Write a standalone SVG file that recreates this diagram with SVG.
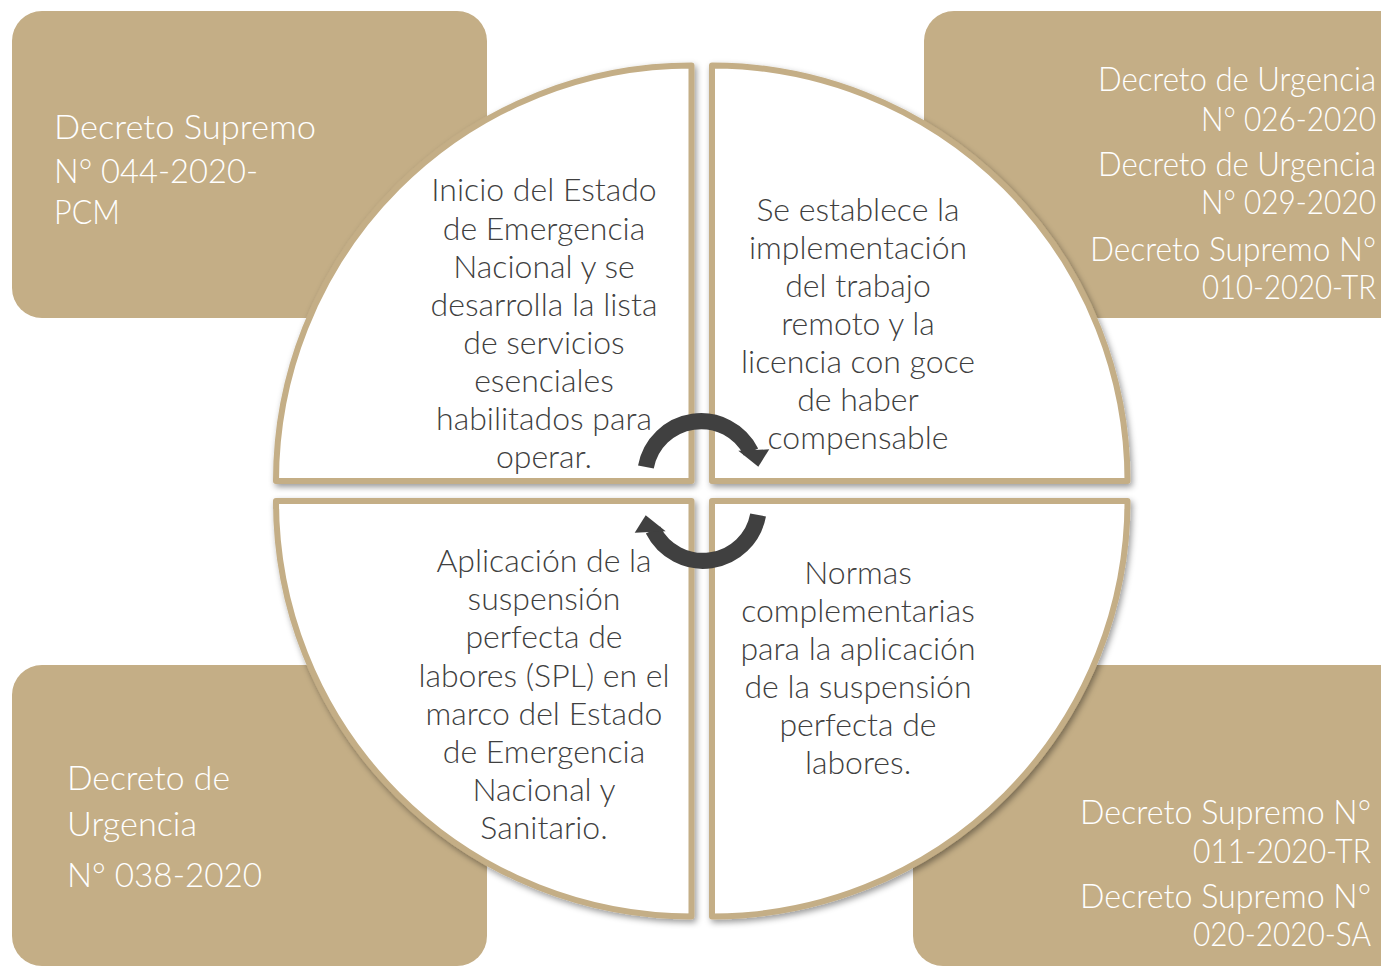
<svg xmlns="http://www.w3.org/2000/svg" width="1381" height="967" viewBox="0 0 1381 967">
<defs>
<filter id="sh" x="-10%" y="-10%" width="120%" height="120%">
<feDropShadow dx="2" dy="3" stdDeviation="3" flood-color="#000" flood-opacity="0.4"/>
</filter>
<style>
.box{fill:#C4AE86;}
.quad{fill:#fff;stroke:#C4AE86;stroke-width:6;stroke-linejoin:round;filter:url(#sh);}
.qt{font-family:Lato,"Open Sans",sans-serif;font-weight:300;font-size:32px;fill:#404040;text-anchor:middle;}
.bt{font-family:Lato,"Open Sans",sans-serif;font-weight:300;font-size:33px;fill:#fff;}
.end{text-anchor:end;}
.arr{fill:none;stroke:#404040;stroke-width:16;}
.ah{fill:#404040;}
</style>
</defs>
<rect width="1381" height="967" fill="#fff"/>

<g id="box-tl">
<rect class="box" x="12" y="11" width="475" height="307" rx="30"/>
<text class="bt" x="54" y="139" textLength="262" lengthAdjust="spacingAndGlyphs">Decreto Supremo</text>
<text class="bt" x="54" y="183" textLength="204" lengthAdjust="spacingAndGlyphs">N° 044-2020-</text>
<text class="bt" x="54" y="224" textLength="66" lengthAdjust="spacingAndGlyphs">PCM</text>
</g>
<g id="box-tr">
<path class="box" d="M 954 11 H 1381 V 318 H 954 A 30 30 0 0 1 924 288 V 41 A 30 30 0 0 1 954 11 Z"/>
<text class="bt end" x="1376" y="91" textLength="278" lengthAdjust="spacingAndGlyphs">Decreto de Urgencia</text>
<text class="bt end" x="1376" y="131" textLength="175" lengthAdjust="spacingAndGlyphs">N° 026-2020</text>
<text class="bt end" x="1376" y="176" textLength="278" lengthAdjust="spacingAndGlyphs">Decreto de Urgencia</text>
<text class="bt end" x="1376" y="214" textLength="175" lengthAdjust="spacingAndGlyphs">N° 029-2020</text>
<text class="bt end" x="1376" y="261" textLength="286" lengthAdjust="spacingAndGlyphs">Decreto Supremo N°</text>
<text class="bt end" x="1376" y="299" textLength="174" lengthAdjust="spacingAndGlyphs">010-2020-TR</text>
</g>
<g id="box-bl">
<path class="box" d="M 42 665 H 457 A 30 30 0 0 1 487 695 V 936 A 30 30 0 0 1 457 966 H 42 A 30 30 0 0 1 12 936 V 695 A 30 30 0 0 1 42 665 Z"/>
<text class="bt" x="67" y="790" textLength="163" lengthAdjust="spacingAndGlyphs">Decreto de</text>
<text class="bt" x="67" y="836" textLength="130" lengthAdjust="spacingAndGlyphs">Urgencia</text>
<text class="bt" x="67" y="887" textLength="195" lengthAdjust="spacingAndGlyphs">N° 038-2020</text>
</g>
<g id="box-br">
<path class="box" d="M 943 665 H 1381 V 966 H 943 A 30 30 0 0 1 913 936 V 695 A 30 30 0 0 1 943 665 Z"/>
<text class="bt end" x="1371" y="824" textLength="291" lengthAdjust="spacingAndGlyphs">Decreto Supremo N°</text>
<text class="bt end" x="1371" y="863" textLength="178" lengthAdjust="spacingAndGlyphs">011-2020-TR</text>
<text class="bt end" x="1371" y="908" textLength="291" lengthAdjust="spacingAndGlyphs">Decreto Supremo N°</text>
<text class="bt end" x="1371" y="946" textLength="178" lengthAdjust="spacingAndGlyphs">020-2020-SA</text>
</g>

<g id="quad-tl">
<path class="quad" d="M 691.5 481 L 276 481 A 415.5 415.5 0 0 1 691.5 65.5 Z"/>
<text class="qt" x="544" y="201">Inicio del Estado</text>
<text class="qt" x="544" y="240">de Emergencia</text>
<text class="qt" x="544" y="278">Nacional y se</text>
<text class="qt" x="544" y="316">desarrolla la lista</text>
<text class="qt" x="544" y="354">de servicios</text>
<text class="qt" x="544" y="392">esenciales</text>
<text class="qt" x="544" y="430">habilitados para</text>
<text class="qt" x="544" y="468">operar.</text>
</g>
<g id="quad-tr">
<path class="quad" d="M 712 481 L 712 65.5 A 415.5 415.5 0 0 1 1127.5 481 Z"/>
<text class="qt" x="858" y="221">Se establece la</text>
<text class="qt" x="858" y="259">implementación</text>
<text class="qt" x="858" y="297">del trabajo</text>
<text class="qt" x="858" y="335">remoto y la</text>
<text class="qt" x="858" y="373">licencia con goce</text>
<text class="qt" x="858" y="411">de haber</text>
<text class="qt" x="858" y="449">compensable</text>
</g>
<g id="quad-bl">
<path class="quad" d="M 691.5 501 L 691.5 916.5 A 415.5 415.5 0 0 1 276 501 Z"/>
<text class="qt" x="544" y="572">Aplicación de la</text>
<text class="qt" x="544" y="610">suspensión</text>
<text class="qt" x="544" y="648">perfecta de</text>
<text class="qt" x="544" y="687">labores (SPL) en el</text>
<text class="qt" x="544" y="725">marco del Estado</text>
<text class="qt" x="544" y="763">de Emergencia</text>
<text class="qt" x="544" y="801">Nacional y</text>
<text class="qt" x="544" y="839">Sanitario.</text>
</g>
<g id="quad-br">
<path class="quad" d="M 712 501 L 1127.5 501 A 415.5 415.5 0 0 1 712 916.5 Z"/>
<text class="qt" x="858" y="584">Normas</text>
<text class="qt" x="858" y="622">complementarias</text>
<text class="qt" x="858" y="660">para la aplicación</text>
<text class="qt" x="858" y="698">de la suspensión</text>
<text class="qt" x="858" y="736">perfecta de</text>
<text class="qt" x="858" y="774">labores.</text>
</g>

<g id="connectors">
<g id="arrow-top">
<path class="arr" d="M 645.9 467 A 56 56 0 0 1 751 452"/>
<polygon class="ah" points="738.3,450.7 769.3,449.3 758.3,466.7"/>
</g>
<g id="arrow-bottom" transform="rotate(180 702 491)">
<path class="arr" d="M 645.9 467 A 56 56 0 0 1 751 452"/>
<polygon class="ah" points="738.3,450.7 769.3,449.3 758.3,466.7"/>
</g>
</g>
</svg>
